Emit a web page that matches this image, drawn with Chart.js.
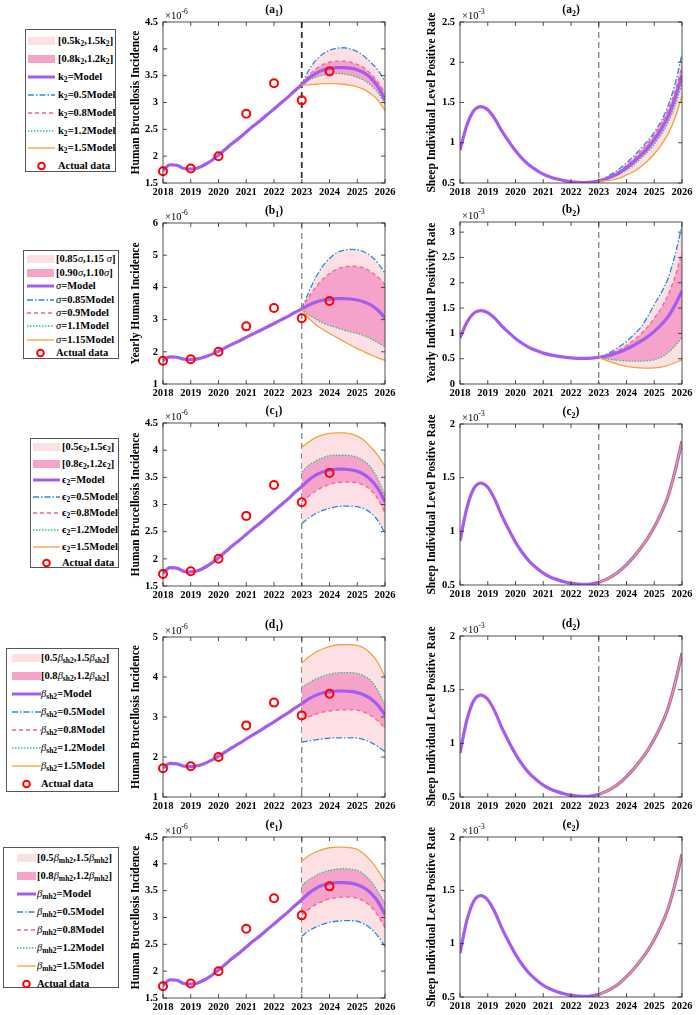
<!DOCTYPE html>
<html>
<head>
<meta charset="utf-8">
<script src="https://cdn.jsdelivr.net/npm/chart.js@4.4.1/dist/chart.umd.min.js"></script>
<style>
  body { margin: 0; background: #fff; width: 699px; height: 1015px; position: relative; overflow: hidden;
         font-family: 'Liberation Serif', 'Times New Roman', serif; }
  canvas { position: absolute; }
  .legend { position: absolute; border: 1px solid #555; background: #fff; box-sizing: border-box; }
  .row { position: absolute; left: 0; height: 14px; line-height: 14px; font-weight: bold; font-size: 10.5px; white-space: nowrap; }
  .row svg { position: absolute; top: 2px; }
  .row span { position: absolute; top: 0; }
  .row sub { font-size: 0.72em; vertical-align: -0.3em; line-height: 0; }
  .g { font-style: italic; font-weight: normal; }
</style>
</head>
<body>
<script>
const SERIF = "'Liberation Serif','Times New Roman',serif";

// time axes
const pastYears = [2018, 2018.25, 2018.5, 2018.75, 2019, 2019.25, 2019.5, 2019.75, 2020, 2020.25, 2020.5,
                   2020.75, 2021, 2021.25, 2021.5, 2021.75, 2022, 2022.25, 2022.5, 2022.75, 2023];
const futureYears = [2023, 2023.25, 2023.5, 2023.75, 2024, 2024.25, 2024.5, 2024.75, 2025, 2025.25, 2025.5, 2025.75, 2026];
const dataYears = [2018, 2019, 2020, 2021, 2022, 2023, 2024];
const xTicks = [2018, 2019, 2020, 2021, 2022, 2023, 2024, 2025, 2026];
const splitYear = 2023;

// human incidence (x1e-6)
const actualHuman = [1.72, 1.77, 2.0, 2.79, 3.36, 3.04, 3.58];
const humanModelPast = [1.73, 1.84, 1.83, 1.77, 1.76, 1.78, 1.84, 1.92, 2.02, 2.13, 2.24,
                        2.34, 2.45, 2.56, 2.66, 2.77, 2.88, 2.99, 3.10, 3.22, 3.33];
const humanModelFuture = [3.33, 3.45, 3.54, 3.60, 3.63, 3.65, 3.65, 3.64, 3.61, 3.55, 3.45, 3.29, 3.05];

// sheep positive rate (x1e-3)
const sheepModelPast = [0.91, 1.22, 1.40, 1.45, 1.41, 1.30, 1.15, 1.02, 0.90, 0.80, 0.72,
                        0.66, 0.61, 0.575, 0.55, 0.53, 0.515, 0.508, 0.505, 0.51, 0.525];
const sheepModelFuture = [0.525, 0.55, 0.585, 0.63, 0.69, 0.76, 0.84, 0.93, 1.04, 1.17, 1.33, 1.56, 1.84];

// (a1) k2
const a1Blue   = [3.33, 3.60, 3.78, 3.90, 3.97, 4.01, 4.02, 4.00, 3.95, 3.86, 3.74, 3.60, 3.40];
const a1Pink   = [3.33, 3.50, 3.62, 3.70, 3.75, 3.77, 3.77, 3.75, 3.71, 3.64, 3.53, 3.38, 3.18];
const a1Green  = [3.33, 3.41, 3.47, 3.51, 3.53, 3.54, 3.53, 3.51, 3.47, 3.41, 3.32, 3.18, 2.98];
const a1Orange = [3.33, 3.33, 3.34, 3.35, 3.35, 3.35, 3.34, 3.32, 3.29, 3.24, 3.16, 3.04, 2.85];
// (b1) sigma
const b1Blue   = [3.33, 3.85, 4.30, 4.65, 4.90, 5.07, 5.15, 5.18, 5.17, 5.10, 4.97, 4.75, 4.44];
const b1Pink   = [3.33, 3.70, 4.00, 4.25, 4.43, 4.56, 4.63, 4.66, 4.65, 4.60, 4.48, 4.32, 4.08];
const b1Green  = [3.33, 3.15, 3.02, 2.90, 2.82, 2.75, 2.68, 2.62, 2.57, 2.50, 2.40, 2.28, 2.16];
const b1Orange = [3.33, 3.05, 2.85, 2.70, 2.57, 2.45, 2.33, 2.21, 2.10, 2.00, 1.90, 1.81, 1.73];
// (c1) epsilon2
const c1Blue   = [2.65, 2.75, 2.83, 2.89, 2.93, 2.96, 2.97, 2.97, 2.96, 2.92, 2.84, 2.70, 2.47];
const c1Pink   = [3.05, 3.15, 3.25, 3.32, 3.37, 3.40, 3.41, 3.41, 3.40, 3.35, 3.26, 3.10, 2.84];
const c1Green  = [3.60, 3.72, 3.80, 3.86, 3.90, 3.91, 3.91, 3.90, 3.87, 3.80, 3.68, 3.46, 3.17];
const c1Orange = [4.05, 4.15, 4.23, 4.28, 4.31, 4.32, 4.32, 4.30, 4.26, 4.18, 4.05, 3.90, 3.70];
// (d1) beta_sh2
const d1Blue   = [2.38, 2.40, 2.43, 2.45, 2.47, 2.48, 2.48, 2.48, 2.47, 2.43, 2.36, 2.26, 2.13];
const d1Pink   = [2.95, 3.00, 3.07, 3.12, 3.15, 3.17, 3.18, 3.18, 3.17, 3.12, 3.03, 2.90, 2.72];
const d1Green  = [3.75, 3.85, 3.95, 4.02, 4.07, 4.10, 4.11, 4.11, 4.09, 4.03, 3.90, 3.65, 3.30];
const d1Orange = [4.35, 4.50, 4.62, 4.70, 4.76, 4.80, 4.81, 4.81, 4.79, 4.72, 4.58, 4.35, 4.00];
// (e1) beta_mh2
const e1Blue   = [2.65, 2.75, 2.82, 2.87, 2.91, 2.93, 2.94, 2.94, 2.93, 2.88, 2.79, 2.65, 2.46];
const e1Pink   = [3.05, 3.15, 3.24, 3.30, 3.35, 3.37, 3.38, 3.38, 3.36, 3.30, 3.20, 3.03, 2.81];
const e1Green  = [3.60, 3.70, 3.78, 3.84, 3.88, 3.90, 3.91, 3.90, 3.88, 3.80, 3.67, 3.48, 3.26];
const e1Orange = [4.05, 4.15, 4.22, 4.27, 4.30, 4.31, 4.31, 4.30, 4.27, 4.18, 4.05, 3.88, 3.66];
// (a2) k2 sheep
const a2Blue   = [0.525, 0.57, 0.62, 0.68, 0.75, 0.83, 0.92, 1.02, 1.13, 1.27, 1.46, 1.73, 2.10];
const a2Pink   = [0.525, 0.56, 0.60, 0.65, 0.72, 0.80, 0.89, 0.99, 1.10, 1.24, 1.41, 1.64, 1.95];
const a2Green  = [0.525, 0.54, 0.57, 0.61, 0.66, 0.72, 0.80, 0.88, 0.98, 1.10, 1.25, 1.46, 1.74];
const a2Orange = [0.525, 0.53, 0.54, 0.56, 0.60, 0.64, 0.70, 0.77, 0.86, 0.97, 1.11, 1.31, 1.58];
// (b2) sigma sheep
const b2Blue   = [0.525, 0.58, 0.65, 0.74, 0.84, 0.97, 1.11, 1.32, 1.57, 1.80, 2.09, 2.55, 3.14];
const b2Pink   = [0.525, 0.57, 0.62, 0.68, 0.76, 0.86, 0.98, 1.12, 1.30, 1.50, 1.76, 2.12, 2.60];
const b2Green  = [0.525, 0.50, 0.48, 0.465, 0.455, 0.45, 0.45, 0.46, 0.48, 0.53, 0.62, 0.75, 0.92];
const b2Orange = [0.525, 0.47, 0.42, 0.38, 0.35, 0.33, 0.32, 0.315, 0.32, 0.335, 0.37, 0.42, 0.48];

// y tick labels
const humanTicks45 = [1.5, 2, 2.5, 3, 3.5, 4, 4.5];
const humanTicks6 = [1, 2, 3, 4, 5, 6];
const humanTicks5 = [1, 2, 3, 4, 5];
const sheepTicks25 = [0.5, 1, 1.5, 2, 2.5];
const sheepTicks3 = [0, 0.5, 1, 1.5, 2, 2.5, 3];
const sheepTicks2 = [0.5, 1, 1.5, 2];

const C = { purple: '#a45cf0', blue: '#2488e8', pink: '#f0648f', green: '#2fc27c', orange: '#f6a13a',
            light: '#fde0e4', dark: '#f6a3cb', red: '#ff0000' };

const pts = (xs, ys) => xs.map((x, i) => ({ x, y: ys[i] }));

function lineDs(data, color, width, dash) {
  return { data, borderColor: color, borderWidth: width, borderDash: dash || [], pointRadius: 0,
           cubicInterpolationMode: 'monotone', fill: false };
}

function drawParts(ctx, cx, cy, parts, center) {
  let w = 0;
  parts.forEach(p => { ctx.font = p.font; w += ctx.measureText(p.t).width; });
  let x = center ? cx - w / 2 : cx;
  parts.forEach(p => {
    ctx.font = p.font;
    ctx.fillText(p.t, x, cy + (p.dy || 0));
    x += ctx.measureText(p.t).width;
  });
}

const framePlugin = {
  id: 'frame',
  beforeDatasetsDraw(chart, args, o) {
    const { ctx, chartArea: a, scales: { x } } = chart;
    const sx = x.getPixelForValue(splitYear);
    ctx.save();
    ctx.strokeStyle = o.splitColor;
    ctx.lineWidth = o.splitWidth;
    ctx.setLineDash([6, 4]);
    ctx.beginPath(); ctx.moveTo(sx, a.top); ctx.lineTo(sx, a.bottom); ctx.stroke();
    ctx.restore();
  },
  afterDraw(chart, args, o) {
    const { ctx, chartArea: a, scales: { x, y } } = chart;
    ctx.save();
    ctx.strokeStyle = '#262626';
    ctx.lineWidth = 0.8;
    ctx.strokeRect(a.left, a.top, a.right - a.left, a.bottom - a.top);
    ctx.beginPath();
    x.ticks.forEach(t => {
      const px = x.getPixelForValue(t.value);
      ctx.moveTo(px, a.bottom); ctx.lineTo(px, a.bottom - 4);
      ctx.moveTo(px, a.top); ctx.lineTo(px, a.top + 4);
    });
    y.ticks.forEach(t => {
      const py = y.getPixelForValue(t.value);
      ctx.moveTo(a.left, py); ctx.lineTo(a.left + 4, py);
      ctx.moveTo(a.right, py); ctx.lineTo(a.right - 4, py);
    });
    ctx.stroke();
    ctx.fillStyle = '#000';
    ctx.textBaseline = 'alphabetic';
    drawParts(ctx, (a.left + a.right) / 2, a.top - 9, [
      { t: '(' + o.letter, font: `bold 11.5px ${SERIF}` },
      { t: o.index, font: `bold 8px ${SERIF}`, dy: 3 },
      { t: ')', font: `bold 11.5px ${SERIF}` }
    ], true);
    drawParts(ctx, a.left + 2, a.top - 3.5, [
      { t: '\u00d710', font: `10.5px ${SERIF}` },
      { t: o.exp, font: `7.5px ${SERIF}`, dy: -5 }
    ], false);
    ctx.restore();
  }
};

function makeChart(s) {
  const canvas = document.createElement('canvas');
  const top = Math.round(s.plotTop) - 20;
  const h = Math.round(s.plotBottom) - Math.round(s.plotTop) + 38;
  canvas.width = s.width; canvas.height = h;
  canvas.style.left = s.left + 'px'; canvas.style.top = top + 'px';
  document.body.appendChild(canvas);

  const ds = [];
  if (s.actual) {
    ds.push({ data: pts(dataYears, s.actual), showLine: false, pointRadius: 4, pointBorderWidth: 2,
              pointBorderColor: C.red, pointBackgroundColor: 'rgba(0,0,0,0)', clip: false });
  }
  const iOrange = ds.length;
  ds.push(lineDs(pts(futureYears, s.orange), C.orange, 1.3));
  ds.push(lineDs(pts(pastYears, s.modelPast), C.purple, 3.2));
  ds.push(lineDs(pts(futureYears, s.modelFuture), C.purple, 3.2));
  const iGreen = ds.length;
  ds.push(lineDs(pts(futureYears, s.green), C.green, 1.3, [1.5, 1.5]));
  const pink = lineDs(pts(futureYears, s.pink), C.pink, 1.3, [4, 3]);
  pink.fill = { target: iGreen }; pink.backgroundColor = C.dark;
  ds.push(pink);
  const blue = lineDs(pts(futureYears, s.blue), C.blue, 1.3, [6, 2, 1.5, 2]);
  blue.fill = { target: iOrange }; blue.backgroundColor = C.light;
  ds.push(blue);

  const tickFont = { family: SERIF, size: 10.5, weight: 'bold' };
  new Chart(canvas, {
    type: 'line',
    data: { datasets: ds },
    options: {
      responsive: false, animation: false, events: [],
      layout: { padding: { top: 20, right: s.padRight, left: 0, bottom: 0 } },
      plugins: { legend: { display: false }, tooltip: { enabled: false },
                 frame: { letter: s.letter, index: s.index, exp: s.exp, splitColor: s.splitColor, splitWidth: s.splitWidth } },
      scales: {
        x: {
          type: 'linear', min: xTicks[0], max: xTicks[xTicks.length - 1],
          afterBuildTicks: sc => { sc.ticks = xTicks.map(v => ({ value: v })); },
          ticks: { autoSkip: false, maxRotation: 0, minRotation: 0, color: '#000', font: tickFont, padding: 3,
                   callback: v => String(v) },
          grid: { display: false, drawTicks: false }, border: { display: false },
          afterFit: sc => { sc.height = 18; sc.paddingLeft = 0; sc.paddingRight = 0; }
        },
        y: {
          type: 'linear', min: s.yTicks[0], max: s.yMax,
          afterBuildTicks: sc => { sc.ticks = s.yTicks.map(v => ({ value: v })); },
          ticks: { color: '#000', font: tickFont, padding: 5, callback: v => String(+v.toFixed(2)) },
          grid: { display: false, drawTicks: false }, border: { display: false },
          title: { display: true, text: s.yTitle, color: '#000', padding: 0,
                   font: { family: SERIF, size: 11.5, weight: 'bold' } },
          afterFit: sc => { sc.width = s.yWidth; sc.paddingTop = 0; sc.paddingBottom = 0; }
        }
      }
    },
    plugins: [framePlugin]
  });
}

function leftChart(letter, plotTop, plotBottom, yTicks, yTitle, lines, dash) {
  makeChart({ left: 129, width: 276, yWidth: 34, padRight: 20, plotTop, plotBottom, yTicks, yMax: yTicks[yTicks.length - 1],
              yTitle, letter, index: '1', exp: '-6', actual: actualHuman,
              modelPast: humanModelPast, modelFuture: humanModelFuture,
              blue: lines[0], pink: lines[1], green: lines[2], orange: lines[3],
              splitColor: dash ? '#333' : '#777', splitWidth: dash ? 1.8 : 1.2 });
}
function rightChart(letter, plotTop, plotBottom, yTicks, yMax, yTitle, lines) {
  makeChart({ left: 425, width: 274, yWidth: 35, padRight: 17, plotTop, plotBottom, yTicks, yMax,
              yTitle, letter, index: '2', exp: '-3', actual: null,
              modelPast: sheepModelPast, modelFuture: sheepModelFuture,
              blue: lines[0], pink: lines[1], green: lines[2], orange: lines[3],
              splitColor: '#777', splitWidth: 1.2 });
}

const HBI = 'Human Brucellosis Incidence';
const SIL = 'Sheep Individual Level Positive Rate';
const sheepSame = [sheepModelFuture, sheepModelFuture, sheepModelFuture, sheepModelFuture];

leftChart('a', 21.7, 182.7, humanTicks45, HBI, [a1Blue, a1Pink, a1Green, a1Orange], true);
rightChart('a', 21.7, 182.7, sheepTicks25, 2.5, SIL, [a2Blue, a2Pink, a2Green, a2Orange]);
leftChart('b', 223.3, 384, humanTicks6, 'Yearly Human Incidence', [b1Blue, b1Pink, b1Green, b1Orange]);
rightChart('b', 222.3, 384, sheepTicks3, 3.2, 'Yearly Individual Positivity Rate', [b2Blue, b2Pink, b2Green, b2Orange]);
leftChart('c', 423.3, 585.7, humanTicks45, HBI, [c1Blue, c1Pink, c1Green, c1Orange]);
rightChart('c', 423.5, 584.5, sheepTicks2, 2, SIL, sheepSame);
leftChart('d', 636.7, 797, humanTicks5, HBI, [d1Blue, d1Pink, d1Green, d1Orange]);
rightChart('d', 635.7, 796.7, sheepTicks2, 2, SIL, sheepSame);
leftChart('e', 836.7, 998.3, humanTicks45, HBI, [e1Blue, e1Pink, e1Green, e1Orange]);
rightChart('e', 837.3, 997.3, sheepTicks2, 2, SIL, sheepSame);

// legends
function swatch(kind, w) {
  const svg = (inner) => `<svg width="${w}" height="10" viewBox="0 0 ${w} 10">${inner}</svg>`;
  const ln = (c, sw, dash) => svg(`<line x1="0" y1="5" x2="${w}" y2="5" stroke="${c}" stroke-width="${sw}" stroke-dasharray="${dash}"/>`);
  switch (kind) {
    case 'light': return svg(`<rect x="0" y="1" width="${w}" height="8" fill="${C.light}"/>`);
    case 'dark': return svg(`<rect x="0" y="1" width="${w}" height="8" fill="${C.dark}"/>`);
    case 'model': return ln(C.purple, 3, 'none');
    case 'blue': return ln(C.blue, 1.3, '6 2 1.5 2');
    case 'pink': return ln(C.pink, 1.3, '4 3');
    case 'green': return ln(C.green, 1.3, '1.5 1.5');
    case 'orange': return ln(C.orange, 1.3, 'none');
    case 'circle': return svg(`<circle cx="${w / 2}" cy="5" r="3.3" fill="none" stroke="${C.red}" stroke-width="2"/>`);
  }
}
const kinds = ['light', 'dark', 'model', 'blue', 'pink', 'green', 'orange', 'circle'];

function legend(box, first, gap, swL, swW, txL) {
  const d = document.createElement('div');
  d.className = 'legend';
  Object.assign(d.style, { left: box[0] + 'px', top: box[1] + 'px', width: box[2] + 'px', height: box[3] + 'px' });
  return { d, first, gap, swL, swW, txL };
}
function fillLegend(L, texts) {
  texts.forEach((t, i) => {
    const r = document.createElement('div');
    r.className = 'row';
    r.style.top = (L.first + i * L.gap - 7) + 'px';
    r.innerHTML = `<div style="position:absolute;left:${L.swL}px">${swatch(kinds[i], L.swW)}</div>` +
                  `<span style="left:${L.txL}px">${t}</span>`;
    L.d.appendChild(r);
  });
  document.body.appendChild(L.d);
}

const k2 = 'k<sub>2</sub>';
const sig = '<i class="g">σ</i>';
const eps = 'ϵ<sub>2</sub>';
const bsh = '<i class="g">β</i><sub>sh2</sub>';
const bmh = '<i class="g">β</i><sub>mh2</sub>';
const stdRows = p => [`${p}=Model`, `${p}=0.5Model`, `${p}=0.8Model`, `${p}=1.2Model`, `${p}=1.5Model`, 'Actual data'];

fillLegend(legend([25, 29, 91, 143], 11, 17.9, 2, 27, 32),
  [`[0.5${k2},1.5${k2}]`, `[0.8${k2},1.2${k2}]`, ...stdRows(k2)]);
fillLegend(legend([23, 250, 96, 109], 8.3, 13.4, 3, 27, 32),
  [`[0.85${sig},1.15 ${sig}]`, `[0.90${sig},1.10${sig}]`, `${sig}=Model`, `${sig}=0.85Model`,
   `${sig}=0.9Model`, `${sig}=1.1Model`, `${sig}=1.15Model`, 'Actual data']);
fillLegend(legend([30, 438, 89, 130], 8, 16.6, 2, 27, 31),
  [`[0.5${eps},1.5${eps}]`, `[0.8${eps},1.2${eps}]`, ...stdRows(eps)]);
fillLegend(legend([6, 648, 113, 144], 8.7, 18, 5, 29, 34),
  [`[0.5${bsh},1.5${bsh}]`, `[0.8${bsh},1.2${bsh}]`, ...stdRows(bsh)]);
fillLegend(legend([3, 847, 116, 141], 10, 18, 13, 19, 33),
  [`[0.5${bmh},1.5${bmh}]`, `[0.8${bmh},1.2${bmh}]`, ...stdRows(bmh)]);
</script>
</body>
</html>
